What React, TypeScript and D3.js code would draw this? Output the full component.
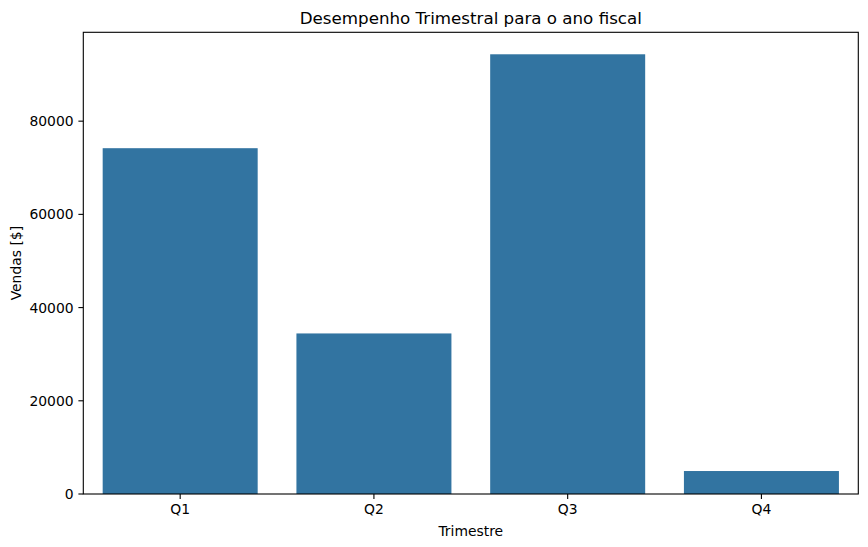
import React from "react";
import * as d3 from "d3";

const categories = ["Q1", "Q2", "Q3", "Q4"];
const sales = [74200, 34450, 94350, 4930];
const yTicks = [0, 20000, 40000, 60000, 80000];
const title = "Desempenho Trimestral para o ano fiscal";
const xLabel = "Trimestre";
const yLabel = "Vendas [$]";

const W = 868;
const H = 547;
const M = { left: 83.3, right: 858.3, top: 32.3, bottom: 494 };
const FONT = "DejaVu Sans, sans-serif";
const BAR = "#3274a1";

export default function App() {
  const x = d3
    .scaleBand<string>()
    .domain(categories)
    .range([M.left, M.right])
    .paddingInner(0.2)
    .paddingOuter(0.1);
  const yMax = (d3.max(sales) as number) * 1.05;
  const y = d3.scaleLinear().domain([0, yMax]).range([M.bottom, M.top]);

  return (
    <svg
      width={W}
      height={H}
      style={{ position: "absolute", left: 0, top: 0, background: "#fff" }}
      fontFamily={FONT}
    >
      <rect x={0} y={0} width={W} height={H} fill="#fff" />
      {categories.map((c, i) => (
        <rect
          key={c}
          x={x(c)}
          y={y(sales[i])}
          width={x.bandwidth()}
          height={y(0) - y(sales[i])}
          fill={BAR}
        />
      ))}
      {/* spines */}
      <rect
        x={M.left}
        y={M.top}
        width={M.right - M.left}
        height={M.bottom - M.top}
        fill="none"
        stroke="#000"
        strokeWidth={1.1}
      />
      {/* y ticks */}
      {yTicks.map((t) => (
        <g key={t} transform={`translate(0,${y(t)})`}>
          <line x1={M.left - 4.9} x2={M.left} stroke="#000" strokeWidth={1.1} />
          <text
            x={M.left - 9.7}
            dy="0.36em"
            textAnchor="end"
            fontSize={13.9}
            fill="#000"
          >
            {t}
          </text>
        </g>
      ))}
      {/* x ticks */}
      {categories.map((c) => {
        const cx = (x(c) as number) + x.bandwidth() / 2;
        return (
          <g key={c} transform={`translate(${cx},0)`}>
            <line y1={M.bottom} y2={M.bottom + 4.9} stroke="#000" strokeWidth={1.1} />
            <text y={514.3} textAnchor="middle" fontSize={13.9} fill="#000">
              {c}
            </text>
          </g>
        );
      })}
      <text
        x={(M.left + M.right) / 2}
        y={535.5}
        textAnchor="middle"
        fontSize={13.9}
        fill="#000"
      >
        {xLabel}
      </text>
      <text
        transform={`translate(20.5,${(M.top + M.bottom) / 2}) rotate(-90)`}
        textAnchor="middle"
        fontSize={13.9}
        fill="#000"
      >
        {yLabel}
      </text>
      <text
        x={(M.left + M.right) / 2}
        y={24}
        textAnchor="middle"
        fontSize={16.7}
        fill="#000"
      >
        {title}
      </text>
    </svg>
  );
}
